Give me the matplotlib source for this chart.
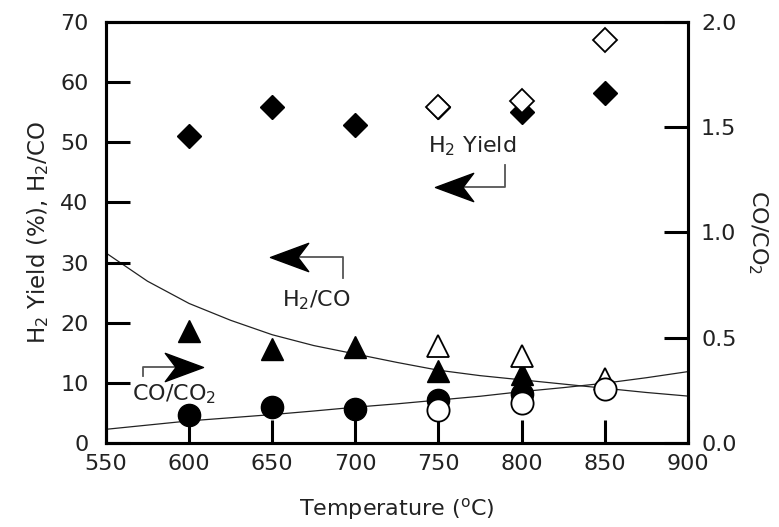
import numpy as np
import matplotlib
matplotlib.use("Agg")
import matplotlib.pyplot as plt
from matplotlib.path import Path

plt.rcParams["font.family"] = ["DejaVu Sans"]
plt.rcParams["mathtext.fontset"] = "dejavusans"

# H2 yield (%), left axis
temp_filled = [600, 650, 700, 750, 800, 850]
h2_yield_filled = [51.0, 55.8, 52.9, 55.8, 55.1, 58.2]
temp_open = [750, 800, 850]
h2_yield_open = [55.8, 56.8, 67.0]

# H2/CO ratio, left axis
temp_ratio_filled = [600, 650, 700, 750, 800]
h2co_filled = [18.6, 15.7, 15.9, 12.0, 11.5]
h2co_open = [16.2, 14.5, 10.6]

# CO/CO2 ratio, right axis
coco2_filled = [0.135, 0.170, 0.162, 0.203, 0.231]
coco2_open = [0.157, 0.191, 0.258]

# fitted curves
curve_temp = [550, 575, 600, 625, 650, 675, 700, 725, 750, 775, 800, 825, 850, 875, 900]
h2co_curve = [31.6, 26.9, 23.2, 20.4, 18.0, 16.2, 14.8, 13.4, 12.1, 11.2, 10.5, 9.8, 9.1, 8.4, 7.8]
coco2_curve = [0.065, 0.085, 0.105, 0.120, 0.135, 0.152, 0.170, 0.186, 0.204, 0.222,
               0.244, 0.263, 0.284, 0.310, 0.339]

# stealth style arrow head, tip at origin pointing left
head = Path([(0, 0), (1, 0.37), (0.72, 0), (1, -0.37), (0, 0)],
            [Path.MOVETO, Path.LINETO, Path.LINETO, Path.LINETO, Path.CLOSEPOLY])
head_right = Path(-head.vertices, head.codes)

fig = plt.figure(figsize=(7.79, 5.27), dpi=100)
ax = fig.add_axes([0.136, 0.1594, 0.747, 0.7989])
ax2 = ax.twinx()

lw_frame = 2.2
txt = "#222222"
ax.plot(curve_temp, h2co_curve, color="#222222", lw=0.9, zorder=1)
ax.plot(temp_filled, h2_yield_filled, "D", color="black", ms=12.5, zorder=3)
ax.plot(temp_open, h2_yield_open, "D", mfc="white", mec="black", mew=1.3, ms=12.5, zorder=3)
ax.plot(temp_ratio_filled, h2co_filled, "^", color="black", ms=16, zorder=3)
ax.plot(temp_open, h2co_open, "^", mfc="white", mec="black", mew=1.3, ms=16, zorder=3)

ax2.plot(curve_temp, coco2_curve, color="#222222", lw=0.9, zorder=1)
ax2.plot(temp_ratio_filled, coco2_filled, "o", color="black", ms=16, zorder=3)
ax2.plot(temp_open, coco2_open, "o", mfc="white", mec="black", mew=1.3, ms=16, zorder=3)

ax.set_xlim(550, 900)
ax.set_ylim(0, 70)
ax2.set_ylim(0, 2.0)
ax.set_xticks(np.arange(550, 901, 50))
ax.set_yticks(np.arange(0, 71, 10))
ax2.set_yticks([0.0, 0.5, 1.0, 1.5, 2.0])
ax2.set_yticklabels(["0.0", "0.5", "1.0", "1.5", "2.0"])

ax.tick_params(axis="x", direction="in", length=16.5, width=lw_frame, top=False,
               labelsize=16, pad=8, labelcolor=txt)
ax.tick_params(axis="y", direction="in", length=17, width=lw_frame, right=False,
               labelsize=16, pad=12.5, labelcolor=txt)
ax2.tick_params(axis="y", direction="in", length=17, width=lw_frame,
                labelsize=16, pad=9.5, labelcolor=txt)
for a in (ax, ax2):
    for s in a.spines.values():
        s.set_linewidth(lw_frame)

ax.set_xlabel(r"Temperature ($^{\rm o}$C)", fontsize=16, color=txt)
ax.xaxis.set_label_coords(0.5, -0.125)
ax.set_ylabel(r"H$_2$ Yield (%), H$_2$/CO", fontsize=16.5, color=txt)
ax.yaxis.set_label_coords(-0.095, 0.5)
ax2.set_ylabel(r"CO/CO$_2$", fontsize=16, rotation=-90, va="bottom", color=txt)
ax2.yaxis.set_label_coords(1.1, 0.5)

# annotations with bracket arrows
bracket = dict(color="#555555", lw=1.3, zorder=2)
ax.text(743.6, 48.25, r"H$_2$ Yield", fontsize=16, color=txt)
ax.plot([790, 790, 752], [46.3, 42.6, 42.6], **bracket)
ax.plot([748], [42.6], marker=head, ms=55, color="black", zorder=4)

ax.text(655.6, 22.7, r"H$_2$/CO", fontsize=16, color=txt)
ax.plot([692.3, 692.3, 652], [27.4, 31.0, 31.0], **bracket)
ax.plot([648.6], [31.0], marker=head, ms=55, color="black", zorder=4)

ax.text(565.8, 7.15, r"CO/CO$_2$", fontsize=16, color=txt)
ax.plot([572.4, 572.4, 605], [11.2, 12.7, 12.7], **bracket)
ax.plot([608.5], [12.7], marker=head_right, ms=55, color="black", zorder=4)

fig.savefig("out.png", dpi=100)
